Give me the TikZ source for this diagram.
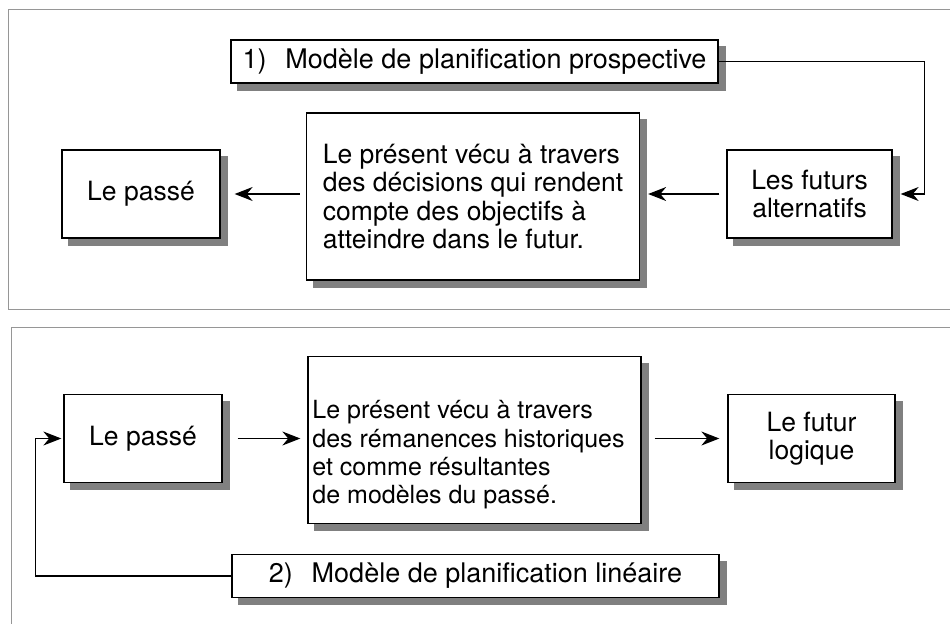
\documentclass[tikz,border=0pt]{standalone}
\usepackage{fontspec}
\setmainfont{TeX Gyre Heros}
\usetikzlibrary{arrows.meta,backgrounds}
\definecolor{cadregris}{RGB}{150,150,150}

\begin{document}
\begin{tikzpicture}[x=1pt, y=-1pt,
  box/.style={draw, line width=1.3pt, fill=white, inner sep=0pt, align=center,
    font=\fontsize{26.5}{28.3}\selectfont},
  titlebox/.style={box, minimum width=487pt, minimum height=43pt,
    font=\fontsize{27}{28.3}\selectfont},
  smallbox/.style={box, minimum width=158pt, minimum height=88pt},
  bigbox/.style={box, minimum width=333pt, minimum height=167pt},
  ombre/.style={fill=gray},
  panel/.style={draw=cadregris, line width=0.6pt},
  arr/.style={-{Stealth[length=18pt, width=14pt]}, line width=1.3pt}
]
  \useasboundingbox (0,0) rectangle (950,624);

  % 1) prospective
  \draw[panel] (950,9) -| (8,309) -- (950,309);
  \node[titlebox] (titre1) at (474.5,61.5) {1)\hspace{0.7em}Modèle de planification prospective};
  \node[smallbox] (passe1) at (141,194) {Le passé};
  \node[bigbox, align=left] (present1) at (473,196.5) {Le présent vécu à travers\\
    des décisions qui rendent\\
    compte des objectifs à\\
    atteindre dans le futur.};
  \node[smallbox, minimum width=165pt] (futurs) at (809.5,194) {Les futurs\\alternatifs};
  \draw[arr, shorten >=8pt] (titre1.east) -- ++(206,0) |- (futurs.east);
  \draw[arr, shorten <=7pt, shorten >=8pt] (futurs.west) -- (futurs.west -| present1.east);
  \draw[arr, shorten <=6pt, shorten >=14pt] (present1.west |- passe1.east) -- (passe1.east);

  % 2) lineaire
  \draw[panel] (950,327) -| (11,624);
  \node[titlebox] (titre2) at (475.5,576) {2)\hspace{0.7em}Modèle de planification linéaire};
  \node[smallbox] (passe2) at (143,438.5) {Le passé};
  \node[bigbox] (present2) at (474.5,440) {};
  \node[align=left, font=\fontsize{25}{28.3}\selectfont] (texte2) at ([xshift=-6pt, yshift=-15pt]present2.center) {Le présent vécu à travers\\
    des rémanences historiques\\
    et comme résultantes\\
    de modèles du passé.};
  \node[smallbox, minimum width=167pt] (futur) at (811.5,438.5) {Le futur\\logique};
  \draw[arr, shorten <=15pt, shorten >=7pt] (passe2.east) -- (passe2.east -| present2.west);
  \draw[arr, shorten <=13pt, shorten >=8pt] (present2.east |- futur.west) -- (futur.west);
  \draw[arr, shorten >=2pt] (titre2.west) -- ++(-196,0) |- (passe2.west);

  % ombres
  \begin{scope}[on background layer]
    \foreach \n in {titre1,passe1,present1,futurs,titre2,passe2,present2,futur}
      \fill[ombre] ([shift={(7pt,-7pt)}]\n.north west) rectangle ([shift={(7pt,-7pt)}]\n.south east);
  \end{scope}
\end{tikzpicture}
\end{document}
